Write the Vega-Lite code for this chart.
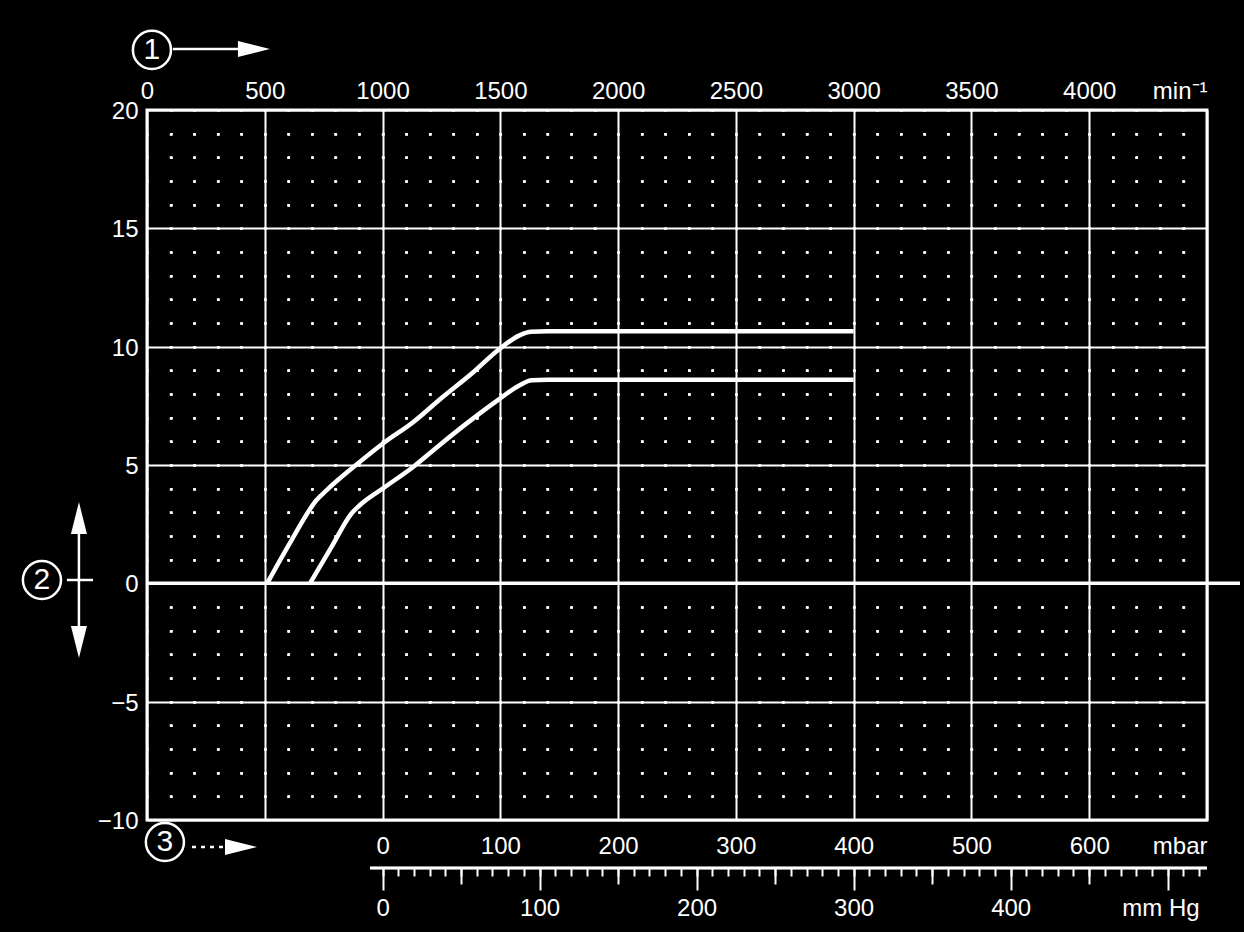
{
  "$schema": "https://vega.github.io/schema/vega-lite/v6.json",
  "width": 1060,
  "height": 710,
  "autosize": {"type": "none"},
  "padding": {"left": 147, "top": 110, "right": 37, "bottom": 112},
  "background": "black",
  "config": {
    "view": {"stroke": "white", "strokeWidth": 3},
    "axis": {
      "labelFont": "Liberation Sans",
      "labelColor": "white",
      "labelFontSize": 24,
      "labelFlush": false,
      "labelOverlap": false,
      "domain": false,
      "ticks": false,
      "tickSize": 0,
      "grid": false
    }
  },
  "datasets": {
    "curves": [
      {"rpm": 510, "value": 0, "series": "upper"},
      {"rpm": 614, "value": 1.83, "series": "upper"},
      {"rpm": 720, "value": 3.52, "series": "upper"},
      {"rpm": 763, "value": 3.94, "series": "upper"},
      {"rpm": 890, "value": 5.02, "series": "upper"},
      {"rpm": 1010, "value": 5.97, "series": "upper"},
      {"rpm": 1131, "value": 6.82, "series": "upper"},
      {"rpm": 1244, "value": 7.78, "series": "upper"},
      {"rpm": 1385, "value": 8.92, "series": "upper"},
      {"rpm": 1491, "value": 9.86, "series": "upper"},
      {"rpm": 1584, "value": 10.49, "series": "upper"},
      {"rpm": 1630, "value": 10.63, "series": "upper"},
      {"rpm": 1700, "value": 10.65, "series": "upper"},
      {"rpm": 3000, "value": 10.65, "series": "upper"},
      {"rpm": 692, "value": 0, "series": "lower"},
      {"rpm": 784, "value": 1.55, "series": "lower"},
      {"rpm": 869, "value": 2.96, "series": "lower"},
      {"rpm": 904, "value": 3.31, "series": "lower"},
      {"rpm": 1010, "value": 4.07, "series": "lower"},
      {"rpm": 1131, "value": 4.93, "series": "lower"},
      {"rpm": 1244, "value": 5.86, "series": "lower"},
      {"rpm": 1385, "value": 6.97, "series": "lower"},
      {"rpm": 1491, "value": 7.75, "series": "lower"},
      {"rpm": 1584, "value": 8.38, "series": "lower"},
      {"rpm": 1633, "value": 8.58, "series": "lower"},
      {"rpm": 1700, "value": 8.6, "series": "lower"},
      {"rpm": 3000, "value": 8.6, "series": "lower"}
    ],
    "zero": [{"mbar": -200, "mbar2": 728, "value": 0}],
    "mmhg": [{"mmhg": -8, "mmhg2": 525, "value": -12.03}],
    "circles": [
      {"rpm": 21, "value": 22.54, "num": "1"},
      {"rpm": -446, "value": 0.14, "num": "2"},
      {"rpm": 76, "value": -10.93, "num": "3"}
    ],
    "arrowlines": [
      {"rpm": 110, "rpm2": 400, "value": 22.58, "value2": 22.58, "style": "solid"},
      {"rpm": 191, "rpm2": 330, "value": -11.14, "value2": -11.14, "style": "dashed"},
      {"rpm": -289, "rpm2": -289, "value": 2.9, "value2": -2.6, "style": "solid"},
      {"rpm": -340, "rpm2": -229, "value": 0.14, "value2": 0.14, "style": "solid"}
    ],
    "arrowheads": [
      {"rpm": 454, "value": 22.58, "dir": "right"},
      {"rpm": 399, "value": -11.14, "dir": "right"},
      {"rpm": -289, "value": 2.76, "dir": "up"},
      {"rpm": -289, "value": -2.48, "dir": "down"}
    ]
  },
  "resolve": {"scale": {"x": "independent", "y": "independent"}},
  "layer": [
    {
      "data": {"name": "arrowlines"},
      "mark": {"type": "rule", "color": "white", "strokeWidth": 2.5, "clip": false},
      "encoding": {
        "x": {
          "field": "rpm", "type": "quantitative",
          "scale": {"domain": [0, 4500], "nice": false, "zero": false},
          "axis": {
            "orient": "bottom",
            "values": [100, 200, 300, 400, 500, 600, 700, 800, 900, 1000, 1100, 1200, 1300, 1400, 1500, 1600, 1700, 1800, 1900, 2000, 2100, 2200, 2300, 2400, 2500, 2600, 2700, 2800, 2900, 3000, 3100, 3200, 3300, 3400, 3500, 3600, 3700, 3800, 3900, 4000, 4100, 4200, 4300, 4400],
            "labels": false, "ticks": false, "domain": false,
            "grid": true, "gridColor": "white", "gridWidth": 2.5, "gridOpacity": 1,
            "gridDash": [2.5, 21.167], "gridDashOffset": 1.25,
            "title": null
          }
        },
        "x2": {"field": "rpm2"},
        "y": {
          "field": "value", "type": "quantitative",
          "scale": {"domain": [-10, 20], "nice": false, "zero": false},
          "axis": {
            "orient": "right",
            "values": [-9, -8, -7, -6, -5, -4, -3, -2, -1, 0, 1, 2, 3, 4, 5, 6, 7, 8, 9, 10, 11, 12, 13, 14, 15, 16, 17, 18, 19],
            "labels": false, "ticks": false, "domain": false,
            "grid": true, "gridColor": "white", "gridWidth": 2.5, "gridOpacity": 1,
            "gridDash": [2.5, 21.056], "gridDashOffset": 1.25,
            "title": null
          }
        },
        "y2": {"field": "value2"},
        "strokeDash": {
          "field": "style", "type": "nominal",
          "scale": {"domain": ["solid", "dashed"], "range": [[1, 0], [4, 5]]},
          "legend": null
        }
      }
    },
    {
      "data": {"name": "curves"},
      "mark": {"type": "line", "color": "white", "strokeWidth": 4.5, "interpolate": "monotone", "clip": false},
      "encoding": {
        "x": {
          "field": "rpm", "type": "quantitative",
          "scale": {"domain": [0, 4500], "nice": false, "zero": false},
          "axis": {
            "orient": "top",
            "values": [0, 500, 1000, 1500, 2000, 2500, 3000, 3500, 4000, 4500],
            "format": "d",
            "labelExpr": "datum.value == 4500 ? 'min⁻¹' : datum.label",
            "labelAlign": {"condition": {"test": "datum.value == 4500", "value": "right"}, "value": "center"},
            "labelBaseline": "alphabetic",
            "labelPadding": 11.5,
            "grid": true, "gridColor": "white", "gridWidth": 2, "gridOpacity": 1,
            "title": null
          }
        },
        "y": {
          "field": "value", "type": "quantitative",
          "scale": {"domain": [-10, 20], "nice": false, "zero": false},
          "axis": {
            "orient": "left",
            "values": [-10, -5, 0, 5, 10, 15, 20],
            "format": "d",
            "labelBaseline": "alphabetic",
            "labelOffset": 8.5,
            "labelPadding": 9,
            "grid": true, "gridColor": "white", "gridWidth": 2, "gridOpacity": 1,
            "title": null
          }
        },
        "detail": {"field": "series", "type": "nominal"}
      }
    },
    {
      "data": {"name": "arrowheads"},
      "mark": {"type": "point", "filled": true, "color": "white", "opacity": 1, "size": 1024, "clip": false},
      "encoding": {
        "x": {"field": "rpm", "type": "quantitative", "scale": {"domain": [0, 4500], "nice": false, "zero": false}, "axis": null},
        "y": {"field": "value", "type": "quantitative", "scale": {"domain": [-10, 20], "nice": false, "zero": false}, "axis": null},
        "shape": {
          "field": "dir", "type": "nominal",
          "scale": {"domain": ["right", "up", "down"], "range": ["M -1 -0.5 L 1 0 L -1 0.5 Z", "M -0.5 1 L 0 -1 L 0.5 1 Z", "M -0.5 -1 L 0 1 L 0.5 -1 Z"]},
          "legend": null
        }
      }
    },
    {
      "data": {"name": "circles"},
      "mark": {"type": "point", "shape": "circle", "filled": false, "stroke": "white", "strokeWidth": 2.5, "opacity": 1, "size": 1450, "clip": false},
      "encoding": {
        "x": {"field": "rpm", "type": "quantitative", "scale": {"domain": [0, 4500], "nice": false, "zero": false}, "axis": null},
        "y": {"field": "value", "type": "quantitative", "scale": {"domain": [-10, 20], "nice": false, "zero": false}, "axis": null}
      }
    },
    {
      "data": {"name": "circles"},
      "mark": {"type": "text", "color": "white", "font": "Liberation Sans", "fontSize": 30, "align": "center", "baseline": "middle", "clip": false},
      "encoding": {
        "x": {"field": "rpm", "type": "quantitative", "scale": {"domain": [0, 4500], "nice": false, "zero": false}, "axis": null},
        "y": {"field": "value", "type": "quantitative", "scale": {"domain": [-10, 20], "nice": false, "zero": false}, "axis": null},
        "text": {"field": "num", "type": "nominal"}
      }
    },
    {
      "data": {"name": "zero"},
      "mark": {"type": "rule", "color": "white", "strokeWidth": 3.5, "clip": false},
      "encoding": {
        "x": {
          "field": "mbar", "type": "quantitative",
          "scale": {"domain": [-200, 700], "nice": false, "zero": false},
          "axis": {
            "orient": "bottom",
            "values": [0, 100, 200, 300, 400, 500, 600, 700],
            "format": "d",
            "labelExpr": "datum.value == 700 ? 'mbar' : datum.label",
            "labelAlign": {"condition": {"test": "datum.value == 700", "value": "right"}, "value": "center"},
            "labelBaseline": "alphabetic",
            "labelPadding": 33.5,
            "title": null
          }
        },
        "x2": {"field": "mbar2"},
        "y": {"field": "value", "type": "quantitative", "scale": {"domain": [-10, 20], "nice": false, "zero": false}, "axis": null}
      }
    },
    {
      "data": {"name": "mmhg"},
      "mark": {"type": "rule", "color": "white", "strokeWidth": 2.5, "clip": false},
      "encoding": {
        "x": {
          "field": "mmhg", "type": "quantitative",
          "scale": {"domain": [-150.012, 525.043], "nice": false, "zero": false},
          "axis": {
            "orient": "bottom",
            "offset": 48,
            "values": [0, 10, 20, 30, 40, 50, 60, 70, 80, 90, 100, 110, 120, 130, 140, 150, 160, 170, 180, 190, 200, 210, 220, 230, 240, 250, 260, 270, 280, 290, 300, 310, 320, 330, 340, 350, 360, 370, 380, 390, 400, 410, 420, 430, 440, 450, 460, 470, 480, 490, 500, 510, 520],
            "format": "d",
            "ticks": true, "tickSize": 8, "tickWidth": 2, "tickColor": "white",
            "labelExpr": "(datum.value % 100 == 0 && datum.value <= 400) ? datum.label : (datum.value == 520 ? 'mm Hg' : '')",
            "labelAlign": {"condition": {"test": "datum.value == 520", "value": "right"}, "value": "center"},
            "labelBaseline": "alphabetic",
            "labelPadding": 39.5,
            "title": null
          }
        },
        "x2": {"field": "mmhg2"},
        "y": {"field": "value", "type": "quantitative", "scale": {"domain": [-10, 20], "nice": false, "zero": false}, "axis": null}
      }
    },
    {
      "data": {"name": "mmhg"},
      "mark": {"type": "rule", "color": "white", "strokeWidth": 2.5, "clip": false},
      "encoding": {
        "x": {
          "field": "mmhg", "type": "quantitative",
          "scale": {"domain": [-150.012, 525.043], "nice": false, "zero": false},
          "axis": {
            "orient": "bottom", "offset": 48,
            "values": [50, 150, 250, 350, 450],
            "ticks": true, "tickSize": 16, "tickWidth": 2, "tickColor": "white",
            "labels": false, "title": null
          }
        },
        "x2": {"field": "mmhg2"},
        "y": {"field": "value", "type": "quantitative", "scale": {"domain": [-10, 20], "nice": false, "zero": false}, "axis": null}
      }
    },
    {
      "data": {"name": "mmhg"},
      "mark": {"type": "rule", "color": "white", "strokeWidth": 2.5, "clip": false},
      "encoding": {
        "x": {
          "field": "mmhg", "type": "quantitative",
          "scale": {"domain": [-150.012, 525.043], "nice": false, "zero": false},
          "axis": {
            "orient": "bottom", "offset": 48,
            "values": [0, 100, 200, 300, 400, 500],
            "ticks": true, "tickSize": 22, "tickWidth": 2, "tickColor": "white",
            "labels": false, "title": null
          }
        },
        "x2": {"field": "mmhg2"},
        "y": {"field": "value", "type": "quantitative", "scale": {"domain": [-10, 20], "nice": false, "zero": false}, "axis": null}
      }
    }
  ]
}
